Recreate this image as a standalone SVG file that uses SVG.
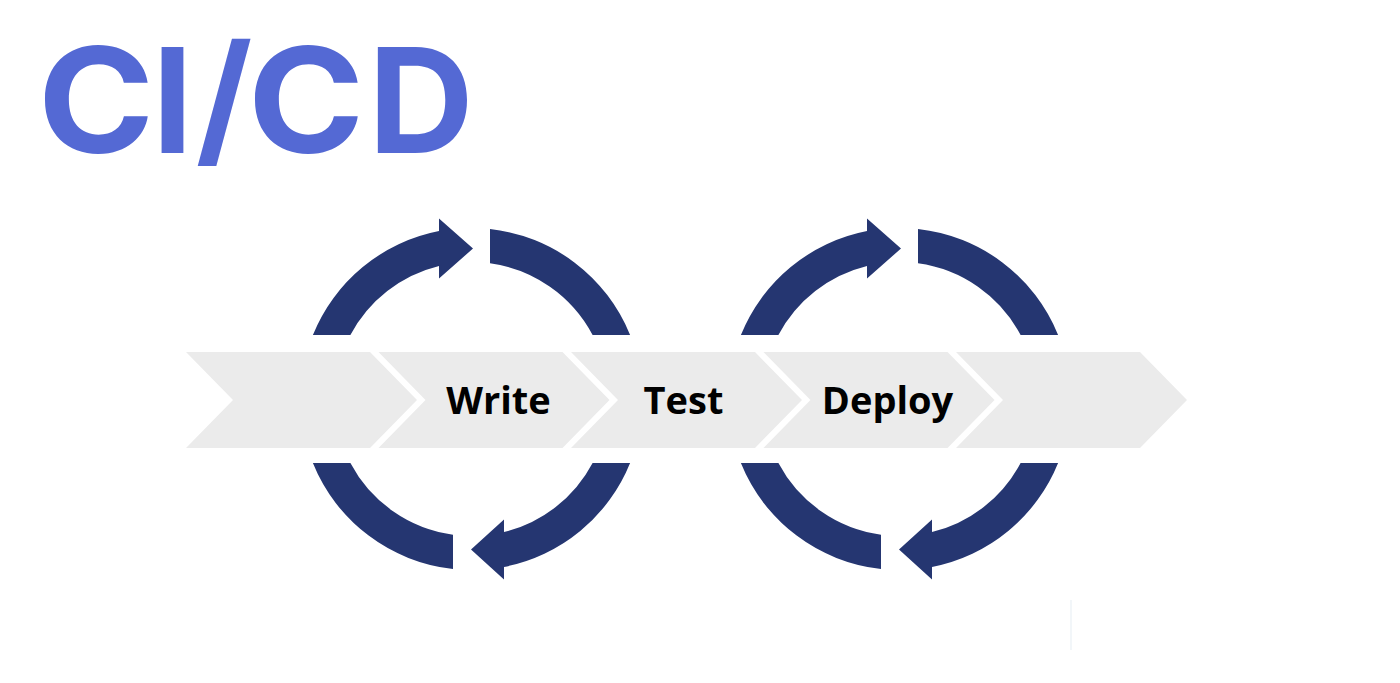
<svg xmlns="http://www.w3.org/2000/svg" width="1400" height="683" viewBox="0 0 1400 683">
  <style>
    .title { font-family: Inter, "Liberation Sans", sans-serif; font-weight: 700; font-size: 146px; fill: #5469D4; text-anchor: middle; }
    .chev { fill: #EBEBEB; }
    .label { font-family: "Open Sans", "DejaVu Sans", sans-serif; font-weight: 700; font-size: 38px; fill: #000000; text-anchor: middle; }
    .arc { fill: #253671; }
  </style>
  <defs>
    <polygon id="chevron" points="0,352 184,352 231,400 184,448 0,448 47,400"/>
    <g id="loop">
      <path class="arc" d="M312.9,335 A171,171 0 0 1 439,231.1 L439,218.5 L473,248.5 L439,278.5 L439,265.9 A137,137 0 0 0 350.4,335 Z"/>
      <path class="arc" d="M490,229 A171,171 0 0 1 630.1,335 L592.6,335 A137,137 0 0 0 490,263.3 Z"/>
      <path class="arc" d="M630.1,463 A171,171 0 0 1 504,566.9 L504,579.5 L471,549.5 L504,519.5 L504,532.1 A137,137 0 0 0 592.6,463 Z"/>
      <path class="arc" d="M453,569 A171,171 0 0 1 312.9,463 L350.4,463 A137,137 0 0 0 453,534.7 Z"/>
    </g>
  </defs>
  <rect width="1400" height="683" fill="#FFFFFF"/>
  <g id="title">
    <text class="title" x="96" y="153" transform="translate(96,153) scale(1.08,1) translate(-96,-153)">C</text>
    <text class="title" x="172.5" y="153">I</text>
    <text class="title" x="224" y="150">/</text>
    <text class="title" x="306" y="153" transform="translate(306,153) scale(1.08,1) translate(-306,-153)">C</text>
    <text class="title" x="421" y="153">D</text>
  </g>
  <g id="connectors">
    <use href="#loop" id="loop-left"/>
    <use href="#loop" id="loop-right" transform="translate(428,0)"/>
  </g>
  <g id="stage-1"><use href="#chevron" class="chev" transform="translate(186,0)"/></g>
  <g id="stage-write"><use href="#chevron" class="chev" transform="translate(378.5,0)"/><text class="label" x="498.5" y="414">Write</text></g>
  <g id="stage-test"><use href="#chevron" class="chev" transform="translate(571,0)"/><text class="label" x="683.5" y="414">Test</text></g>
  <g id="stage-deploy"><use href="#chevron" class="chev" transform="translate(763.5,0)"/><text class="label" x="887.5" y="414">Deploy</text></g>
  <g id="stage-5"><use href="#chevron" class="chev" transform="translate(956,0)"/></g>
  <line x1="1071" y1="600" x2="1071" y2="650" stroke="#EEF3F7" stroke-width="1.5"/>
</svg>
